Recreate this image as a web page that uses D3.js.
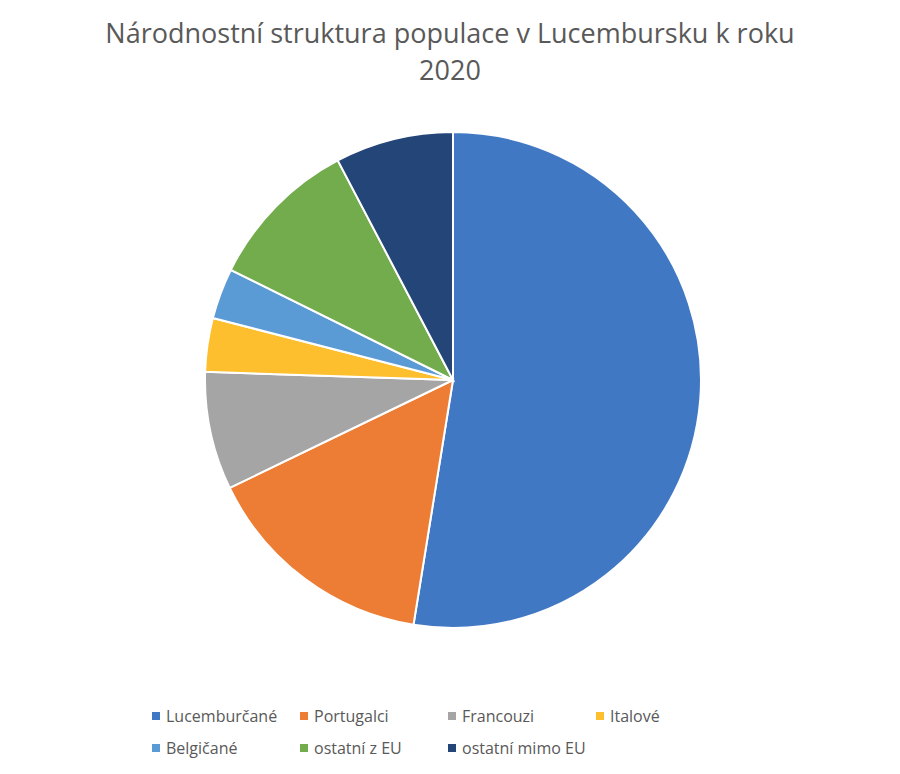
<!DOCTYPE html>
<html><head><meta charset="utf-8">
<script src="https://cdn.jsdelivr.net/npm/d3@7"></script>
<style>body{margin:0;background:#fff}</style>
</head><body>
<script>
var categories = ['Lucemburčané', 'Portugalci', 'Francouzi', 'Italové', 'Belgičané', 'ostatní z EU', 'ostatní mimo EU'];
var values = [52.6, 15.3, 7.7, 3.5, 3.3, 10.0, 7.7];
var colors = ['#4178c4', '#ed7d35', '#a5a5a5', '#fdbf2d', '#5b9bd5', '#72ac4d', '#234577'];

var W = 900, H = 774, cx = 453, cy = 380, r = 248;
var svg = d3.select('body').append('svg').attr('width', W).attr('height', H);

svg.append('text').attr('x', 450).attr('y', 43).attr('text-anchor', 'middle')
  .attr('font-family', 'Open Sans, sans-serif').attr('font-size', 27).attr('fill', '#595959')
  .text('Národnostní struktura populace v Lucembursku k roku');
svg.append('text').attr('x', 450).attr('y', 80).attr('text-anchor', 'middle')
  .attr('font-family', 'Open Sans, sans-serif').attr('font-size', 27).attr('fill', '#595959')
  .text('2020');

var data = categories.map(function(c, i) { return {name: c, value: values[i], color: colors[i]}; });
var pie = d3.pie().sort(null).value(function(d) { return d.value; });
var arc = d3.arc().innerRadius(0).outerRadius(r);

svg.append('g').attr('transform', 'translate(' + cx + ',' + cy + ')')
  .selectAll('path').data(pie(data)).enter().append('path')
  .attr('d', arc).attr('fill', function(d) { return d.data.color; })
  .attr('stroke', '#fff').attr('stroke-width', 2);

var leg = svg.append('g').selectAll('g').data(data).enter().append('g')
  .attr('transform', function(d, i) {
    return 'translate(' + (152 + (i % 4) * 148) + ',' + (716 + Math.floor(i / 4) * 32) + ')';
  });
leg.append('rect').attr('x', 0).attr('y', -4).attr('width', 8).attr('height', 8)
  .attr('fill', function(d) { return d.color; });
leg.append('text').attr('x', 14).attr('y', 6)
  .attr('font-family', 'Open Sans, sans-serif').attr('font-size', 16).attr('fill', '#595959')
  .text(function(d) { return d.name; });
</script>
</body></html>
